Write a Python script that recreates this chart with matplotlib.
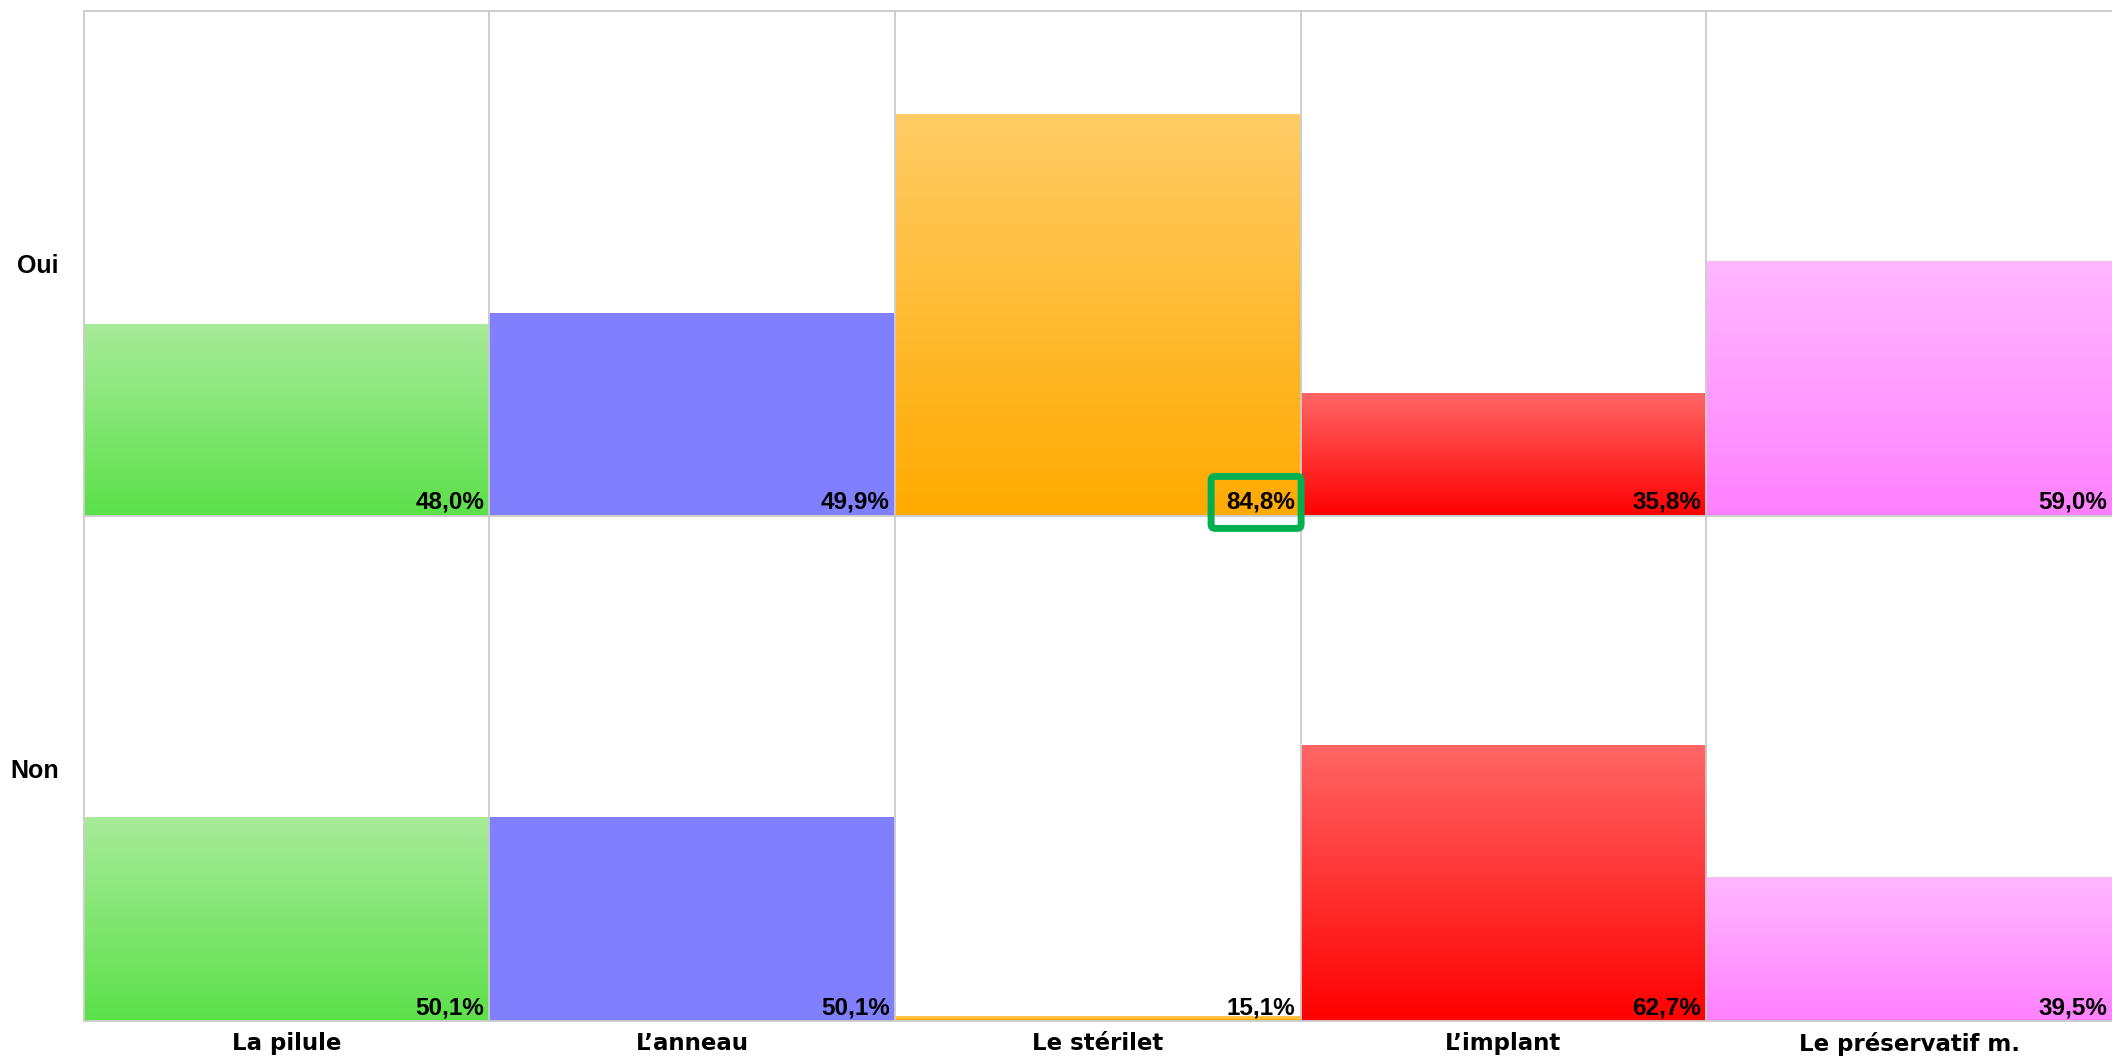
import numpy as np
import matplotlib
matplotlib.use('Agg')
import matplotlib.pyplot as plt
from matplotlib.colors import LinearSegmentedColormap
from matplotlib.patches import FancyBboxPatch
from matplotlib.transforms import IdentityTransform

# donnees
categories = ['La pilule', 'L\u2019anneau', 'Le stérilet', 'L\u2019implant', 'Le préservatif m.']
lignes = ['Oui', 'Non']
valeurs_oui = [48.0, 49.9, 84.8, 35.8, 59.0]
valeurs_non = [50.1, 50.1, 15.1, 62.7, 39.5]
couleurs_haut = ['#a8eb9a', '#8080ff', '#ffcc66', '#ff6666', '#ffb8ff']
couleurs_bas = ['#5ce04a', '#8080ff', '#ffaa00', '#ff0000', '#ff80ff']

# bornes de l'axe des valeurs
y_min = 14.2
y_max = 103.0
gris = '#cccccc'

fig = plt.figure(figsize=(21.12, 10.56), dpi=100)
gs = fig.add_gridspec(2, 1, left=83.5/2112, right=1.0, top=1-10.8/1056, bottom=1-1021/1056, hspace=0)
axes = [fig.add_subplot(gs[0]), fig.add_subplot(gs[1])]

gradient = np.linspace(0, 1, 256).reshape(-1, 1)

for ax, nom, valeurs in zip(axes, lignes, [valeurs_oui, valeurs_non]):
    x = np.arange(len(categories))
    barres = ax.bar(x, np.array(valeurs) - y_min, bottom=y_min, width=1.0, align='edge',
                    color='none', edgecolor='none')
    for i, b in enumerate(barres):
        cmap = LinearSegmentedColormap.from_list('g%d' % i, [couleurs_haut[i], couleurs_bas[i]])
        im = ax.imshow(gradient, cmap=cmap, aspect='auto', interpolation='bilinear',
                       extent=(b.get_x(), b.get_x() + b.get_width(), y_min, valeurs[i]), zorder=1)
        im.set_clip_path(b)
        ax.annotate(f'{valeurs[i]:.1f}%'.replace('.', ','), xy=(i + 1, y_min),
                    xytext=(-5, 2), textcoords='offset pixels', ha='right', va='bottom',
                    fontsize=17.5, fontweight='bold', family='Liberation Sans', zorder=3)
    for xv in range(1, len(categories)):
        ax.axvline(xv, color=gris, lw=1.3, zorder=2)
    ax.set_xlim(0, len(categories))
    ax.set_ylim(y_min, y_max)
    for s in ['left', 'top', 'bottom']:
        ax.spines[s].set_color(gris)
        ax.spines[s].set_linewidth(1.3)
    ax.spines['right'].set_visible(False)
    ax.set_yticks([(y_min + y_max) / 2])
    ax.set_yticklabels([nom], fontsize=18, fontweight='bold', family='Liberation Sans')
    ax.tick_params(axis='y', length=0, pad=18)
    ax.tick_params(axis='x', length=0, pad=8)
    ax.set_xticks(x + 0.5)
    ax.set_xticklabels([])

axes[1].set_xticklabels(categories, fontsize=16.5, fontweight='bold', family='DejaVu Sans')

# encadre vert autour de la valeur du sterilet
px, py = axes[0].transData.transform((3, y_min))
cadre = FancyBboxPatch((px - 89.5, py - 12.5), 90, 52,
                       boxstyle='round,pad=0,rounding_size=4', transform=IdentityTransform(),
                       facecolor='none', edgecolor='#00b050', linewidth=5, zorder=10)
fig.patches.append(cadre)

fig.savefig('out.png', dpi=100)
